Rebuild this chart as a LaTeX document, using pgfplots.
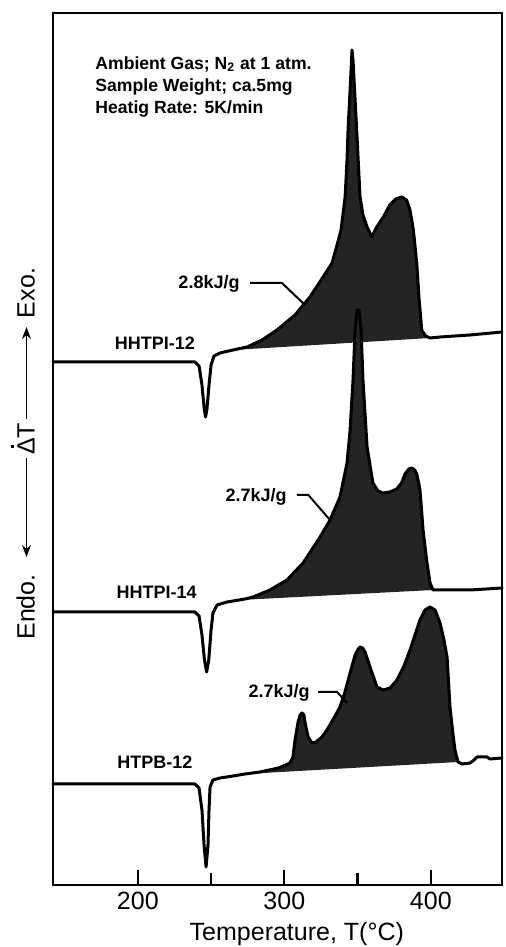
\documentclass[border=0pt]{standalone}
\usepackage{fontspec}
\setmainfont{Liberation Sans}
\usepackage{pgfplots}
\pgfplotsset{compat=1.18}
\usetikzlibrary{arrows.meta}
\newcommand{\lblfont}{\fontsize{12.5}{15}\selectfont}
\newcommand{\annfont}{\bfseries\fontsize{8.8}{11}\selectfont}
\newcommand{\dotDelta}{\makebox[0pt][l]{\hspace{0.28em}\smash{\raisebox{0.82em}{\rule{0.12em}{0.12em}}}}Δ}
\begin{document}
\begin{tikzpicture}
\begin{axis}[
  scale only axis, width=224.5pt, height=436pt,
  xmin=142.1, xmax=448.6, ymin=0, ymax=872,
  axis line style={line width=1.3pt},
  xtick={200,300,400}, minor xtick={250,350},
  xtick pos=bottom, tick align=inside,
  major tick length=7.5pt, minor tick length=6pt,
  every tick/.style={line width=1.1pt, black},
  ytick=\empty,
  /pgf/number format/assume math mode=true,
  xticklabel style={font=\lblfont},
  xlabel={Temperature, T(°C)},
  xlabel style={font=\lblfont, at={(axis description cs:0.543,0)}, anchor=base, yshift=-27.5pt},
  clip=false, no markers,
  every axis plot/.append style={line join=round, line cap=round}
]
% shaded exotherm areas
\addplot[fill=black!86, draw=none, forget plot] coordinates {
(265.0,535) (274.6,538) (284.8,545) (295.0,555) (307.3,570) (317.5,588) (325.1,605) (332.6,622) (336.0,640) (338.7,655) (341.5,688) (342.8,725) (343.5,755) (344.9,795) (345.9,825) (346.2,835) (346.9,825) (349.4,755) (351.7,688) (353.7,670) (356.5,658) (359.7,648) (363.1,658) (367.6,668) (372.0,680) (376.0,686) (380.1,688) (383.5,685) (385.8,675) (388.1,655) (390.4,622) (391.9,588) (393.8,555) (396.5,549) (399.5,547)};
\addplot[fill=black!86, draw=none, forget plot] coordinates {
(269.8,285) (273.2,286) (278.6,288) (290.2,295) (301.8,305) (312.8,322) (324.4,348) (331.2,365) (338.0,388) (342.8,422) (344.9,455) (346.9,505) (348.3,555) (349.6,575) (351.0,575) (352.4,555) (353.7,505) (356.5,438) (360.5,402) (364.0,394) (367.4,392) (372.0,393) (376.7,396) (380.0,402) (382.4,411) (385.0,416) (387.0,417) (389.0,415) (390.4,411) (392.0,400) (392.6,395) (393.7,375) (394.7,355) (397.4,322) (399.5,302) (401.5,295)};
\addplot[fill=black!86, draw=none, forget plot] coordinates {
(273.2,111) (283.4,113) (296,117) (303.9,122) (305.9,128) (307.3,145) (309.4,163) (310.8,170) (312.1,172) (313.4,170) (314.1,163) (316.2,148) (318.9,142) (321.6,143) (325.7,148) (329.1,155) (333.9,167) (338.0,178) (341.4,193) (344.9,212) (348.3,230) (350.5,236) (351.7,238) (353.5,237) (355.1,233) (358.5,218) (363.3,198) (367.4,195) (372.2,197) (376.9,205) (381.7,219) (385.8,235) (389.2,250) (392.6,265) (396.0,275) (399.5,278) (402.9,275) (406.3,262) (409.0,245) (411.1,228) (413.1,178) (415.2,150) (416.5,135) (418.6,123)};
% HHTPI-12
\addplot[black, line width=1.5pt] coordinates {
(142.1,523) (239.0,523) (241.8,519) (243.8,500) (245.2,478) (246.2,468) (247.2,476) (248.6,500) (250.0,520) (252.0,529) (256.1,532) (265.0,535) (274.6,538) (284.8,545) (295.0,555) (307.3,570) (317.5,588) (325.1,605) (332.6,622) (336.0,640) (338.7,655) (341.5,688) (342.8,725) (343.5,755) (344.9,795) (345.9,825) (346.2,835) (346.9,825) (349.4,755) (351.7,688) (353.7,670) (356.5,658) (359.7,648) (363.1,658) (367.6,668) (372.0,680) (376.0,686) (380.1,688) (383.5,685) (385.8,675) (388.1,655) (390.4,622) (391.9,588) (393.8,555) (396.5,549) (399.5,547) (406.3,548) (426.8,550) (448.6,553)};
% HHTPI-14
\addplot[black, line width=1.5pt] coordinates {
(142.1,273) (239.0,273) (241.8,269) (243.8,250) (245.5,225) (247.0,213) (248.4,225) (250.0,255) (251.3,272) (254.1,280) (260.9,283) (273.2,286) (278.6,288) (290.2,295) (301.8,305) (312.8,322) (324.4,348) (331.2,365) (338.0,388) (342.8,422) (344.9,455) (346.9,505) (348.3,555) (349.6,575) (351.0,575) (352.4,555) (353.7,505) (356.5,438) (360.5,402) (364.0,394) (367.4,392) (372.0,393) (376.7,396) (380.0,402) (382.4,411) (385.0,416) (387.0,417) (389.0,415) (390.4,411) (392.0,400) (392.6,395) (393.7,375) (394.7,355) (397.4,322) (399.5,302) (401.5,295) (406.3,295) (426.8,295) (448.6,297)};
% HTPB-12
\addplot[black, line width=1.5pt] coordinates {
(142.1,101) (239.0,101) (241.8,97) (243.8,75) (245.2,40) (246.6,18) (247.9,40) (248.6,75) (249.3,98) (251.3,105) (256.1,107) (265.0,109) (273.2,111) (283.4,113) (296,117) (303.9,122) (305.9,128) (307.3,145) (309.4,163) (310.8,170) (312.1,172) (313.4,170) (314.1,163) (316.2,148) (318.9,142) (321.6,143) (325.7,148) (329.1,155) (333.9,167) (338.0,178) (341.4,193) (344.9,212) (348.3,230) (350.5,236) (351.7,238) (353.5,237) (355.1,233) (358.5,218) (363.3,198) (367.4,195) (372.2,197) (376.9,205) (381.7,219) (385.8,235) (389.2,250) (392.6,265) (396.0,275) (399.5,278) (402.9,275) (406.3,262) (409.0,245) (411.1,228) (413.1,178) (415.2,150) (416.5,135) (418.6,123) (421.3,121) (426.8,122) (429.5,125) (431.6,128) (438.4,128) (440.4,126) (448.6,127)};
% annotations
\node[anchor=north west, align=left, inner sep=0pt, font=\annfont] at (axis cs:170.8,829)
  {Ambient Gas; N\textsubscript{2} at 1 atm.\\Sample Weight; ca.5mg\\Heatig Rate: 5K/min};
\node[font=\bfseries\fontsize{9}{10}\selectfont] at (axis cs:211.7,542) {HHTPI-12};
\node[font=\bfseries\fontsize{9}{10}\selectfont] at (axis cs:212.8,293) {HHTPI-14};
\node[font=\bfseries\fontsize{9}{10}\selectfont] at (axis cs:211.7,123) {HTPB-12};
\node[font=\bfseries\fontsize{9}{10}\selectfont] at (axis cs:248.6,601) {2.8kJ/g};
\draw[line width=1pt] (axis cs:276.6,602) -- (axis cs:298.4,602) -- (axis cs:314.1,580);
\node[font=\bfseries\fontsize{9}{10}\selectfont] at (axis cs:280.7,388) {2.7kJ/g};
\draw[line width=1pt] (axis cs:308.5,390) -- (axis cs:316.4,390) -- (axis cs:331.2,365);
\node[font=\bfseries\fontsize{9}{10}\selectfont] at (axis cs:296.4,192) {2.7kJ/g};
\draw[line width=1pt] (axis cs:323.0,193) -- (axis cs:336.0,193) -- (axis cs:342.8,182);
% y label
\node[rotate=90, anchor=base, inner sep=0pt, font=\lblfont] at (axis cs:129.5,278) {Endo.};
\draw[line width=0.9pt, -{Stealth[length=6pt,width=4.5pt]}] (axis cs:124.0,427) -- (axis cs:124.0,328);
\node[rotate=90, anchor=base, inner sep=0pt, font=\lblfont] at (axis cs:129.5,446) {\dotDelta T};
\draw[line width=0.9pt, -{Stealth[length=6pt,width=4.5pt]}] (axis cs:124.0,466) -- (axis cs:124.0,558);
\node[rotate=90, anchor=base, inner sep=0pt, font=\lblfont] at (axis cs:129.5,592) {Exo.};
\end{axis}
\pgfresetboundingbox
\path (-26.5pt,-31pt) rectangle (226pt,442.5pt);
\end{tikzpicture}
\end{document}
